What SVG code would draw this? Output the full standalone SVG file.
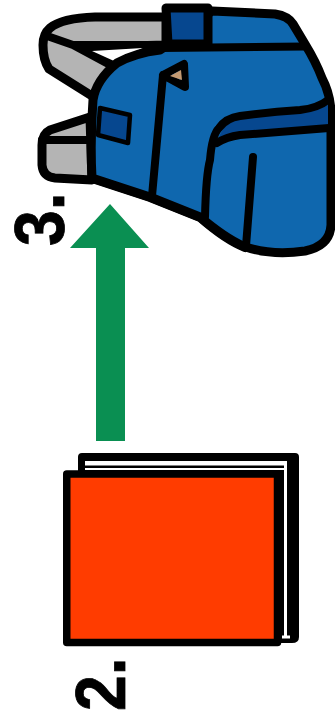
<svg xmlns="http://www.w3.org/2000/svg" width="335" height="725" viewBox="0 0 335 725">
<style>
.o{stroke:#000;stroke-width:9;stroke-linejoin:round;stroke-linecap:round}
.l{fill:none;stroke:#000;stroke-width:8;stroke-linejoin:round;stroke-linecap:round}
.g{fill:#b4b4b4}
.b{fill:#0f67ae}
.d{fill:#06478f}
.t{font-family:"Liberation Sans",Arial,sans-serif;font-weight:700;font-size:70px;fill:#000;stroke:#000;stroke-width:.8}
</style>
<rect width="335" height="725" fill="#fff"/>
<g id="bag">
<path class="o g" d="M166 17L95 17Q62 18 50 28Q43 34 43 45Q43 60 49 69L92 96L118 65L92 47L166 45Z"/>
<path class="l" d="M50 37L73 45H166M73 45L112 66"/>
<path class="o g" d="M90 117L50 130Q42 134 42 145V165Q43 177 55 178L92 180Z"/>
<path class="l" d="M42 140H90"/>
<path d="M92 51L143 48L114 61Z" fill="#fff"/>
<path class="o b" d="M166 46L212 11L275 14Q288 16 293 24L305 44Q316 62 322 78Q331 95 331 115V225Q330 246 305 251Q270 256 243 246Q225 238 200 217L150 197L92 178Q90 140 93 100Q96 80 117 63Q135 53 160 50Z"/>
<path class="o d" d="M166 8H208V44H168Z"/>
<path class="l" d="M160 48L305 46.500"/>
<path d="M100 108L130 115L128 143L98 135Z" class="d" stroke="#000" stroke-width="4.500" stroke-linejoin="round"/>
<path class="l" d="M152 196L163 75L184 64L185 87L163 75"/>
<path d="M170 76L181 70L182 80Z" fill="#c49a72"/>
<path d="M217 143Q222 124 238 118L300 110L328 102V130L240 135Z" class="d"/>
<path class="l" d="M205 217Q206 175 210 160Q212 135 219 128Q226 118 240 116Q270 112 300 110Q318 108 328 100"/>
<path class="l" d="M217 143Q226 137 240 135L329 128"/>
<path class="l" d="M253 157L246 246"/>
<path class="l" d="M92 179L150 198L200 218Q225 240 245 248"/>
</g>
<g id="connectors">
<path id="arrow" d="M110 204L149 248H125V441H96V248H70Z" fill="#0a8f52"/>
</g>
<g id="book">
<path d="M78 472V457Q78 453 82 453H295Q299 453 299 457V637Q299 643 292 643H280V472Z" fill="#000"/>
<rect x="85" y="461" width="202" height="4.500" fill="#fff"/>
<rect x="85" y="468" width="199" height="2" fill="#fff"/>
<rect x="284" y="461" width="3" height="175" fill="#fff"/>
<rect x="282" y="635.500" width="8" height="3" fill="#fff"/>
<rect x="66.750" y="474" width="210.750" height="168.500" fill="#ff3c00" stroke="#000" stroke-width="7.500" stroke-linejoin="round"/>
</g>
<g id="label-3"><text class="t" transform="translate(63.500 246) rotate(-90) scale(.92 1)">3.</text></g>
<g id="label-2"><text class="t" transform="translate(125 711) rotate(-90) scale(.92 1)">2.</text></g>
</svg>
